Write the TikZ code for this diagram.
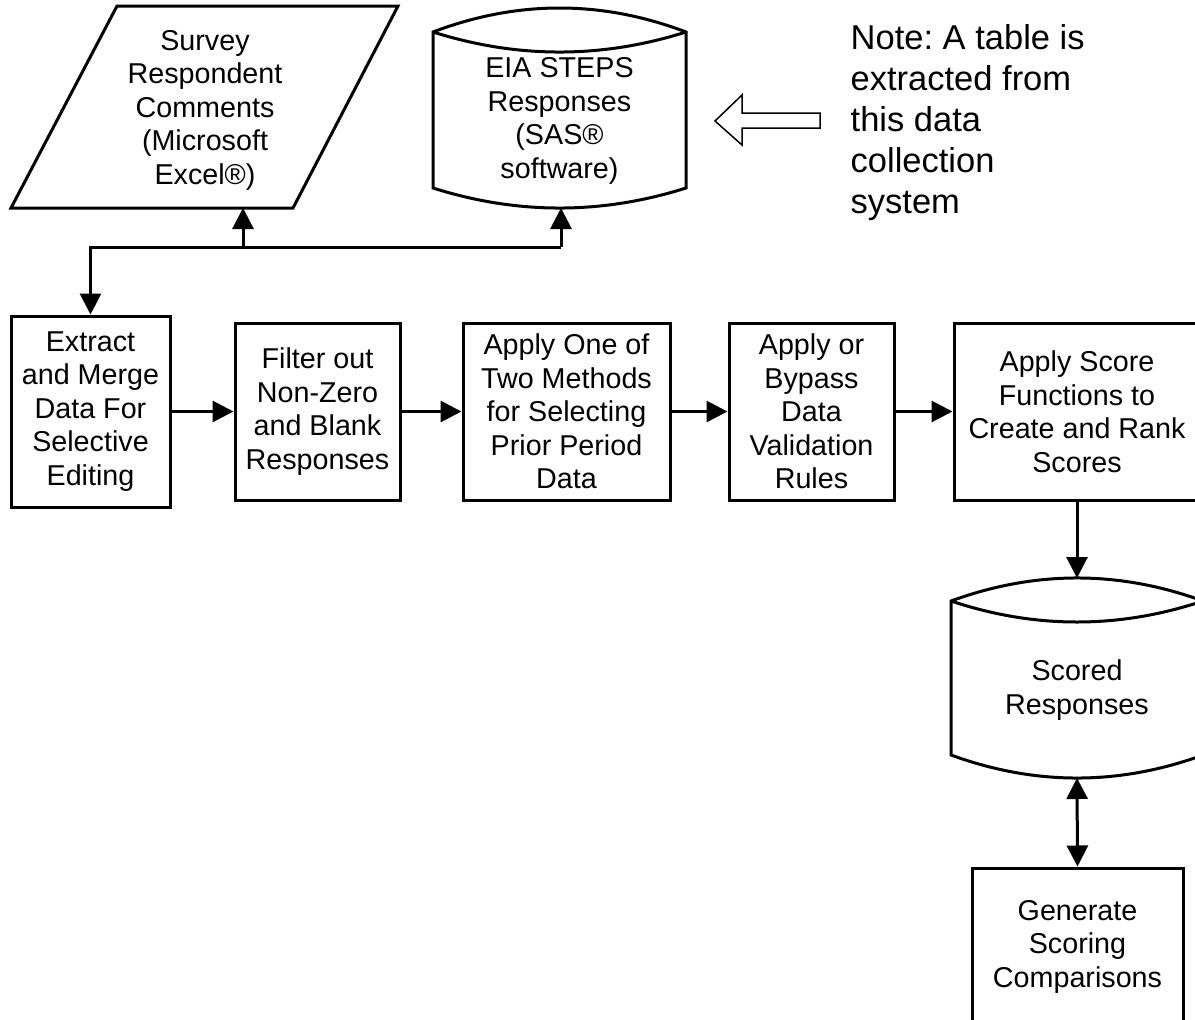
\documentclass[tikz,border=0pt]{standalone}
\usepackage{fontspec}
\setmainfont{Liberation Sans}
\usetikzlibrary{arrows.meta}
\frenchspacing
\begin{document}
\begin{tikzpicture}[x=1pt,y=-1pt,
  txt/.style={align=center, font=\fontsize{28.7}{33.5}\selectfont, inner sep=0pt},
  procbox/.style={txt, draw, line width=3pt, rectangle, minimum height=177pt},
  shapeline/.style={line width=3pt, line join=miter},
  conn/.style={line width=3pt, -{Triangle[length=21pt,width=21pt]}},
  conntwo/.style={line width=3pt, {Triangle[length=21pt,width=21pt]}-{Triangle[length=21pt,width=21pt]}},
  plain/.style={line width=3pt},
]
\useasboundingbox (0,0) rectangle (1195,1020);
\clip (0,0) rectangle (1195,1020);

% Survey parallelogram
\draw[shapeline] (117,6) -- (398,6) -- (293,208) -- (11,208) -- cycle;
\node[txt] (surv) at (205,110) {Survey\\Respondent\\Comments\\(Microsoft\\Excel®)};
\coordinate (survB) at (243,208);

% EIA cylinder
\draw[shapeline] (433,32) .. controls (517.3,0) and (601.7,0) .. (686,32)
   -- (686,188) .. controls (601.7,214.7) and (517.3,214.7) .. (433,188) -- cycle;
\draw[shapeline] (433,32) .. controls (517.3,58.7) and (601.7,58.7) .. (686,32);
\node[txt] (eia) at (559.5,121) {EIA STEPS\\Responses\\(SAS®\\software)};
\coordinate (eiaB) at (561,208);

% Note and block arrow
\node[anchor=north west, align=left, inner sep=0pt, font=\fontsize{34.5}{41}\selectfont] (note) at (850.5,24.3)
  {Note: A table is\\extracted from\\this data\\collection\\system};
\draw[line width=1.5pt, line join=miter] (715,121) -- (742,95) -- (742,113) -- (820,113) -- (820,128) -- (742,128) -- (742,145) -- cycle;

% Process boxes
\node[procbox, minimum width=159pt, minimum height=191pt] (ext) at (90.5,411.5) {Extract\\and Merge\\Data For\\Selective\\Editing};
\node[procbox, minimum width=165pt] (filt) at (317.5,411.5) {Filter out\\Non-Zero\\and Blank\\Responses};
\node[procbox, minimum width=207pt] (one) at (566.5,411.5) {Apply One of\\Two Methods\\for Selecting\\Prior Period\\Data};
\node[procbox, minimum width=165pt] (byp) at (811.5,411.5) {Apply or\\Bypass\\Data\\Validation\\Rules};
\node[procbox, minimum width=246pt] (score) at (1077,411.5) {Apply Score\\Functions to\\Create and Rank\\Scores};

% Scored cylinder
\draw[shapeline] (951,601) .. controls (1035,570.3) and (1119,570.3) .. (1203,601)
   -- (1203,755) .. controls (1119,785.7) and (1035,785.7) .. (951,755) -- cycle;
\draw[shapeline] (951,601) .. controls (1035,629) and (1119,629) .. (1203,601);
\node[txt] (scored) at (1077,690) {Scored\\Responses};
\coordinate (scT) at (1077,578);
\coordinate (scB) at (1077,778);

% Generate box
\node[procbox, minimum width=211pt, minimum height=157pt] (gen) at (1077.5,946.5) {Generate\\Scoring\\Comparisons};

% Connectors
\coordinate (jl) at (ext.north |- 0,247);
\coordinate (jm) at (survB |- 0,247);
\coordinate (jr) at (eiaB |- 0,247);
\draw[conn, line join=miter] (jr) -- (jl) -- (ext.north);
\draw[conn] (jm) -- (survB);
\draw[conn] (jr) -- (eiaB);
\draw[conn] (ext.east) -- (filt.west);
\draw[conn] (filt.east) -- (one.west);
\draw[conn] (one.east) -- (byp.west);
\draw[conn] (byp.east) -- (score.west);
\draw[conn] (score.south) -- (scT);
\draw[conntwo] (scB) -- (gen.north);
\end{tikzpicture}
\end{document}
